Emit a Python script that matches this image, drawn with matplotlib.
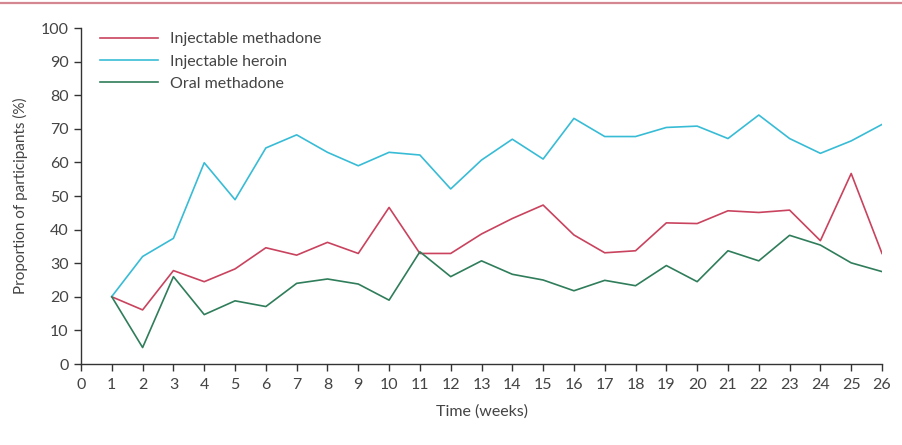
import matplotlib.pyplot as plt
from matplotlib.lines import Line2D

plt.rcParams['font.family'] = ['Lato', 'DejaVu Sans']

# 周数
weeks = list(range(1, 27))
# 注射美沙酮
injectable_methadone = [20.0, 16.1, 27.8, 24.5, 28.3, 34.6, 32.4, 36.2, 32.9, 46.6,
                        32.9, 32.9, 38.7, 43.3, 47.3, 38.4, 33.1, 33.7, 42.0, 41.8,
                        45.6, 45.1, 45.8, 36.7, 56.7, 32.9]
# 注射海洛因
injectable_heroin = [20.1, 32.0, 37.4, 59.9, 48.9, 64.3, 68.2, 63.0, 59.0, 63.0,
                     62.2, 52.1, 60.7, 66.9, 61.0, 73.1, 67.7, 67.7, 70.4, 70.8,
                     67.1, 74.1, 67.1, 62.7, 66.4, 71.3]
# 口服美沙酮
oral_methadone = [20.0, 4.9, 26.0, 14.7, 18.8, 17.1, 24.0, 25.3, 23.8, 19.0,
                  33.4, 26.0, 30.7, 26.7, 25.0, 21.8, 24.9, 23.3, 29.3, 24.5,
                  33.7, 30.7, 38.3, 35.4, 30.1, 27.5]

red = '#c9435e'
cyan = '#38bcd6'
green = '#2f7d5a'
axis_col = '#333333'
text_col = '#444444'

fig = plt.figure(figsize=(9.03, 4.45), dpi=100)
ax = fig.add_axes([81 / 903, 1 - 364 / 445, 801 / 903, 336 / 445])

# 顶部粉色分隔线
fig.add_artist(Line2D([0, 1], [1 - 3 / 445, 1 - 3 / 445], color='#d48790', lw=1.6))

ax.plot(weeks, injectable_methadone, color=red, lw=1.2, label='Injectable methadone')
ax.plot(weeks, injectable_heroin, color=cyan, lw=1.2, label='Injectable heroin')
ax.plot(weeks, oral_methadone, color=green, lw=1.2, label='Oral methadone')

ax.set_xlim(0, 26)
ax.set_ylim(0, 100)
ax.set_xticks(range(0, 27))
ax.set_yticks(range(0, 101, 10))
ax.margins(0)

for side in ['top', 'right']:
    ax.spines[side].set_visible(False)
for side in ['left', 'bottom']:
    ax.spines[side].set_color(axis_col)
    ax.spines[side].set_linewidth(1.0)
ax.tick_params(direction='out', length=5, width=1.0, color=axis_col,
               labelsize=11.5, labelcolor=text_col, pad=4)
ax.tick_params(axis='x', pad=5)

ax.set_xlabel('Time (weeks)', fontsize=11.5, color=text_col, labelpad=9)
ax.set_ylabel('Proportion of participants (%)', fontsize=11, color=text_col, labelpad=9)

ax.legend(loc='upper left', bbox_to_anchor=(0.006, 1.03), frameon=False, fontsize=11.5,
          handlelength=3.6, handletextpad=0.8, labelspacing=0.5, labelcolor=text_col)

fig.savefig('out.png', dpi=100)
